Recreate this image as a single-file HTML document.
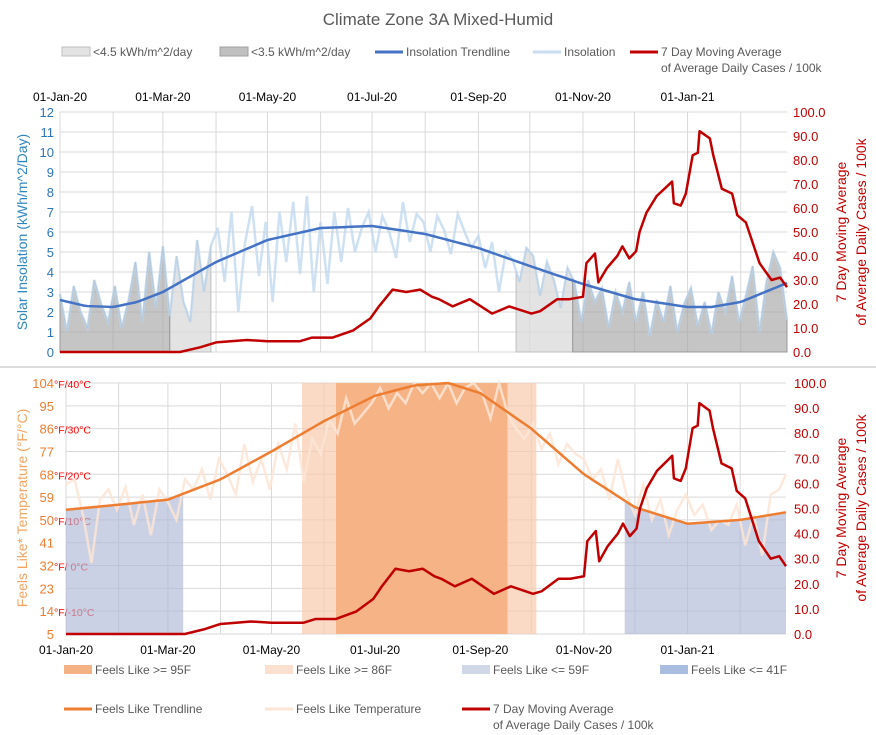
<!DOCTYPE html>
<html><head><meta charset="utf-8"><style>
html,body{margin:0;padding:0;background:#fff}
svg{display:block;font-family:"Liberation Sans",sans-serif}
</style></head><body>
<svg id="chart" width="876" height="735" viewBox="0 0 876 735" xmlns="http://www.w3.org/2000/svg">
<text x="438" y="25" text-anchor="middle" font-size="17" fill="#595959">Climate Zone 3A Mixed-Humid</text>
<line x1="0" y1="367" x2="876" y2="367" stroke="#d0d0d0" stroke-width="1.5"/>
<g id="topPanel"></g>
<g id="botPanel"></g>
<g id="legends"></g>
</svg>
<script>
// ---- data ----
const dateLabels = ["01-Jan-20","01-Mar-20","01-May-20","01-Jul-20","01-Sep-20","01-Nov-20","01-Jan-21"];
const dateLabelDays = [0,60,121,182,244,305,366];
const monthDays = [0,31,60,91,121,152,182,213,244,274,305,335,366,397];
const insolTicks = [0,1,2,3,4,5,6,7,8,9,10,11,12];
const caseTicks = [0,10,20,30,40,50,60,70,80,90,100];
const tempTicks = [5,14,23,32,41,50,59,68,77,86,95,104];
const tempCelsius = {"14":"-10°C","32":" 0°C","50":"10°C","68":"20°C","86":"30°C","104":"40°C"};
// insolation every 4 days
const insolation = [2.9,1.0,3.3,2.0,1.2,3.6,2.4,1.5, 3.3,1.2,2.6,4.5,1.5,5.0,2.2,5.3,
 1.8,4.8,2.5,1.5,5.6,3.0,5.3, 6.2,3.5,7.0,2.0,5.5,7.3,3.8,6.5, 2.5,7.0,4.5,7.5,3.9,7.8,3.0,
 6.5,3.4,7.0,4.5,7.2,5.0,6.2,7.0, 5.0,6.8,6.0,4.7,7.5,5.5,6.9, 6.5,5.0,6.8,6.1,4.9,6.9,6.0,5.2,
 5.8,4.2,5.5,3.0,5.0,4.6,3.5,5.2, 4.8,2.8,4.5,3.6,2.2,4.2,3.5,1.5, 3.6,2.5,3.2,1.2,3.0,2.0,3.5,
 1.5,3.0,0.8,2.6,1.5,3.3,1.0,2.4, 3.2,1.3,2.5,0.9,3.0,2.0,3.8,1.5, 2.8,4.3,1.0,3.5,5.0,4.2,1.6];
const insolStep = 4;
const insolTrendDays = [0,15,31,45,60,91,121,152,182,213,244,274,305,335,366,380,397,424];
const insolTrend = [2.6,2.3,2.25,2.5,3.0,4.5,5.6,6.2,6.3,5.9,5.2,4.3,3.4,2.65,2.25,2.25,2.5,3.45];
const lightGrayRanges = [[64,88],[266,299]];
const darkGrayRanges = [[0,64],[299,424]];
// feels like temperature every 5 days
const feelsLike = [64,66,52,33,58,62,54, 63,48,60,44,62,57, 50,66,62,70,58,74, 68,60,80,65,74,62,
 80,70,88,65,82,76, 90,84,98,88,92,96, 102,94,100,96,104,100, 104,98,104,96,102,104,
 100,90,104,92,86,82, 88,78,84,72,80,76, 74,66,70,58,74,60, 52,64,50,58,44,54,
 60,52,56,46,50,48, 56,40,52,36,60,62,68];
const feelsStep = 5;
const tempTrendDays = [0,31,60,91,121,152,182,205,225,244,274,305,335,366,397,424];
const tempTrend = [54,56,58,66,77,89,99,103,104,100,86,68,55,48.5,50,53];
const hot95Range = [159,260];
const hot86Range = [139,277];
const cold59Ranges = [[0,69],[329,424]];
// 7 day moving average cases
const caseDays = [0,70,82,91,109,121,140,147,159,171,181,186,194,202,210,217,221,229,239,252,262,275,280,290,297,305,306,307,312,314,319,325,328,332,336,338,342,348,354,357,358,362,365,369,372,373,379,381,386,392,395,400,408,415,420,424];
const caseVals = [0,0,2,4,5,4.5,4.5,6,6,9,14,19,26,25,26,23,22,19,22,16,19,16,17,22,22,23,30,37,41,29,35,40,44,39,42,50,58,65,69,71,62,61,66,82,83,92,89,82,68,66,57,54,37,30,31,27];

const NS="http://www.w3.org/2000/svg";
function mk(parent,tag,attrs,text){const e=document.createElementNS(NS,tag);for(const k in attrs)e.setAttribute(k,attrs[k]);if(text!==undefined)e.textContent=text;parent.appendChild(e);return e;}
const maxDay=424;
const TL=60,TR=787,TT=112,TB=352;
const tx=d=>TL+d*(TR-TL)/maxDay;
const tyI=v=>TB-v*(TB-TT)/12;
const tyC=v=>TB-v*(TB-TT)/100;
const BL=66,BR=786,BT=383,BB=634;
const bx=d=>BL+d*(BR-BL)/maxDay;
const byT=v=>BB-(v-5)*(BB-BT)/99;
const byC=v=>BB-v*(BB-BT)/100;
function interp(days,vals,d){for(let i=1;i<days.length;i++){if(d<=days[i]){const t=(d-days[i-1])/(days[i]-days[i-1]);return vals[i-1]+t*(vals[i]-vals[i-1]);}}return vals[vals.length-1];}
function seriesAt(arr,step,d){const i=Math.floor(d/step);if(i>=arr.length-1)return arr[arr.length-1];const t=(d-i*step)/step;return arr[i]+t*(arr[i+1]-arr[i]);}
function areaPath(r,fx,fy,fn){let d=`M${fx(r[0])},${fy(0)}`;for(let dd=r[0];dd<=r[1];dd+=1)d+=` L${fx(dd)},${fy(fn(dd))}`;d+=` L${fx(r[1])},${fy(0)} Z`;return d;}

const gTop=document.getElementById('topPanel');
monthDays.forEach(d=>{const l=mk(gTop,'line',{x1:tx(d),y1:TT,x2:tx(d),y2:TB,stroke:'#d9d9d9'});

});
insolTicks.forEach(v=>{const l=mk(gTop,'line',{x1:TL,y1:tyI(v),x2:TR,y2:tyI(v),stroke:'#d9d9d9'});


const t=mk(gTop,'text',{x:TL-6,y:tyI(v)+5,'text-anchor':'end','font-size':13,fill:'#2e75b6'},String(v));

});
caseTicks.forEach(v=>{const t=mk(gTop,'text',{x:TR+6,y:tyC(v)+5,'font-size':13,fill:'#c00000'},v.toFixed(1));

});
dateLabels.forEach((s,i)=>{const t=mk(gTop,'text',{x:tx(dateLabelDays[i]),y:101,'text-anchor':'middle','font-size':12,fill:'#000'},s);

});
lightGrayRanges.forEach(r=>{const p=mk(gTop,'path',{d:areaPath(r,tx,tyI,d=>seriesAt(insolation,insolStep,d)),fill:'#d9d9d9','fill-opacity':0.75,stroke:'#bfbfbf'});

});
darkGrayRanges.forEach(r=>{const p=mk(gTop,'path',{d:areaPath(r,tx,tyI,d=>seriesAt(insolation,insolStep,d)),fill:'#a6a6a6','fill-opacity':0.65,stroke:'#999'});

});
let ip='';insolation.forEach((v,i)=>{ip+=(i?' L':'M')+tx(i*insolStep)+','+tyI(v);});
const il=mk(gTop,'path',{d:ip,fill:'none',stroke:'#bdd7ee','stroke-width':2.5,'stroke-opacity':0.75});


let tp='';for(let d=0;d<=maxDay;d+=2){tp+=(d?' L':'M')+tx(d)+','+tyI(interp(insolTrendDays,insolTrend,d));}
const tl=mk(gTop,'path',{d:tp,fill:'none',stroke:'#4472c4','stroke-width':2.5});


let cp='';caseDays.forEach((d,i)=>{cp+=(i?' L':'M')+tx(d)+','+tyC(caseVals[i]);});
const cl=mk(gTop,'path',{d:cp,fill:'none',stroke:'#c00000','stroke-width':2.5,'stroke-linejoin':'round'});


const ya=mk(gTop,'text',{transform:'translate(27,232) rotate(-90)','text-anchor':'middle','font-size':14,fill:'#2e86c1'},'Solar Insolation (kWh/m^2/Day)');


const yr1=mk(gTop,'text',{transform:'translate(846,232) rotate(-90)','text-anchor':'middle','font-size':14,fill:'#c00000'},'7 Day Moving Average');


const yr2=mk(gTop,'text',{transform:'translate(866,232) rotate(-90)','text-anchor':'middle','font-size':14,fill:'#c00000'},'of Average Daily Cases / 100k');



const gBot=document.getElementById('botPanel');
monthDays.forEach(d=>{const l=mk(gBot,'line',{x1:bx(d),y1:BT,x2:bx(d),y2:BB,stroke:'#d9d9d9'});

});
tempTicks.forEach(v=>{const l=mk(gBot,'line',{x1:BL,y1:byT(v),x2:BR,y2:byT(v),stroke:'#d9d9d9'});


const t=mk(gBot,'text',{x:BL-12,y:byT(v)+5,'text-anchor':'end','font-size':13,fill:'#ed7d31'},String(v));


if(tempCelsius[v]){const c=mk(gBot,'text',{x:BL-12,y:byT(v)+5,'font-size':10.5,fill:'#ff0000'},'°F/'+tempCelsius[v]);

}});
caseTicks.forEach(v=>{const t=mk(gBot,'text',{x:BR+8,y:byC(v)+5,'font-size':13,fill:'#c00000'},v.toFixed(1));

});
dateLabels.forEach((s,i)=>{const t=mk(gBot,'text',{x:bx(dateLabelDays[i]),y:654,'text-anchor':'middle','font-size':12,fill:'#000'},s);

});
const r86=mk(gBot,'rect',{x:bx(hot86Range[0]),y:BT,width:bx(hot86Range[1])-bx(hot86Range[0]),height:BB-BT,fill:'#f8cbad','fill-opacity':0.7});


const r95=mk(gBot,'rect',{x:bx(hot95Range[0]),y:BT,width:bx(hot95Range[1])-bx(hot95Range[0]),height:BB-BT,fill:'#f4b183','fill-opacity':0.95});


cold59Ranges.forEach(r=>{const p=mk(gBot,'path',{d:areaPath(r,bx,v=>byT(Math.max(v,5)),d=>interp(tempTrendDays,tempTrend,d)),fill:'#adb9d6','fill-opacity':0.65});

});
let fp='';feelsLike.forEach((v,i)=>{fp+=(i?' L':'M')+bx(Math.min(i*feelsStep,maxDay))+','+byT(Math.min(v,104));});
const fl=mk(gBot,'path',{d:fp,fill:'none',stroke:'#fbe5d6','stroke-width':2.5,'stroke-opacity':0.85});


let ftp='';for(let d=0;d<=maxDay;d+=2){ftp+=(d?' L':'M')+bx(d)+','+byT(Math.min(104,interp(tempTrendDays,tempTrend,d)));}
const ftl=mk(gBot,'path',{d:ftp,fill:'none',stroke:'#ed7d31','stroke-width':2.5});


let cp2='';caseDays.forEach((d,i)=>{cp2+=(i?' L':'M')+bx(d)+','+byC(caseVals[i]);});
const cl2=mk(gBot,'path',{d:cp2,fill:'none',stroke:'#c00000','stroke-width':2.5,'stroke-linejoin':'round'});


const ya2=mk(gBot,'text',{transform:'translate(27,508) rotate(-90)','text-anchor':'middle','font-size':14,fill:'#f4a460'},'Feels Like* Temperature (°F/°C)');


const yb1=mk(gBot,'text',{transform:'translate(846,508) rotate(-90)','text-anchor':'middle','font-size':14,fill:'#c00000'},'7 Day Moving Average');


const yb2=mk(gBot,'text',{transform:'translate(866,508) rotate(-90)','text-anchor':'middle','font-size':14,fill:'#c00000'},'of Average Daily Cases / 100k');



const lg=document.getElementById('legends');
function legRect(x,y,fill,stroke,label,name){const g=mk(lg,'g',{});


mk(g,'rect',{x:x,y:y-5,width:28,height:9,fill:fill,stroke:stroke});
mk(g,'text',{x:x+31,y:y+4,'font-size':12,fill:'#595959'},label);}
function legLine(x,y,col,label,name,label2){const g=mk(lg,'g',{});


mk(g,'line',{x1:x,y1:y,x2:x+28,y2:y,stroke:col,'stroke-width':3});
mk(g,'text',{x:x+31,y:y+4,'font-size':12,fill:'#595959'},label);
if(label2)mk(g,'text',{x:x+31,y:y+20,'font-size':12,fill:'#595959'},label2);}
legRect(62,52,'#e3e3e3','#bfbfbf','<4.5 kWh/m^2/day','legend-below-4-5');
legRect(220,52,'#c0c0c0','#a0a0a0','<3.5 kWh/m^2/day','legend-below-3-5');
legLine(375,52,'#4472c4','Insolation Trendline','legend-insolation-trendline');
legLine(533,52,'#c9dcf0','Insolation','legend-insolation');
legLine(630,52,'#c00000','7 Day Moving Average','legend-cases-top','of Average Daily Cases / 100k');
legRect(64,670,'#f4b183','none','Feels Like >= 95F','legend-feels-95');
legRect(265,670,'#fbe0cf','none','Feels Like >= 86F','legend-feels-86');
legRect(462,670,'#d0d8e8','none','Feels Like <= 59F','legend-feels-59');
legRect(660,670,'#a9bde0','none','Feels Like <= 41F','legend-feels-41');
legLine(64,709,'#ed7d31','Feels Like Trendline','legend-feels-trendline');
legLine(265,709,'#fbe5d6','Feels Like Temperature','legend-feels-temperature');
legLine(462,709,'#c00000','7 Day Moving Average','legend-cases-bottom','of Average Daily Cases / 100k');
</script>
</body></html>
